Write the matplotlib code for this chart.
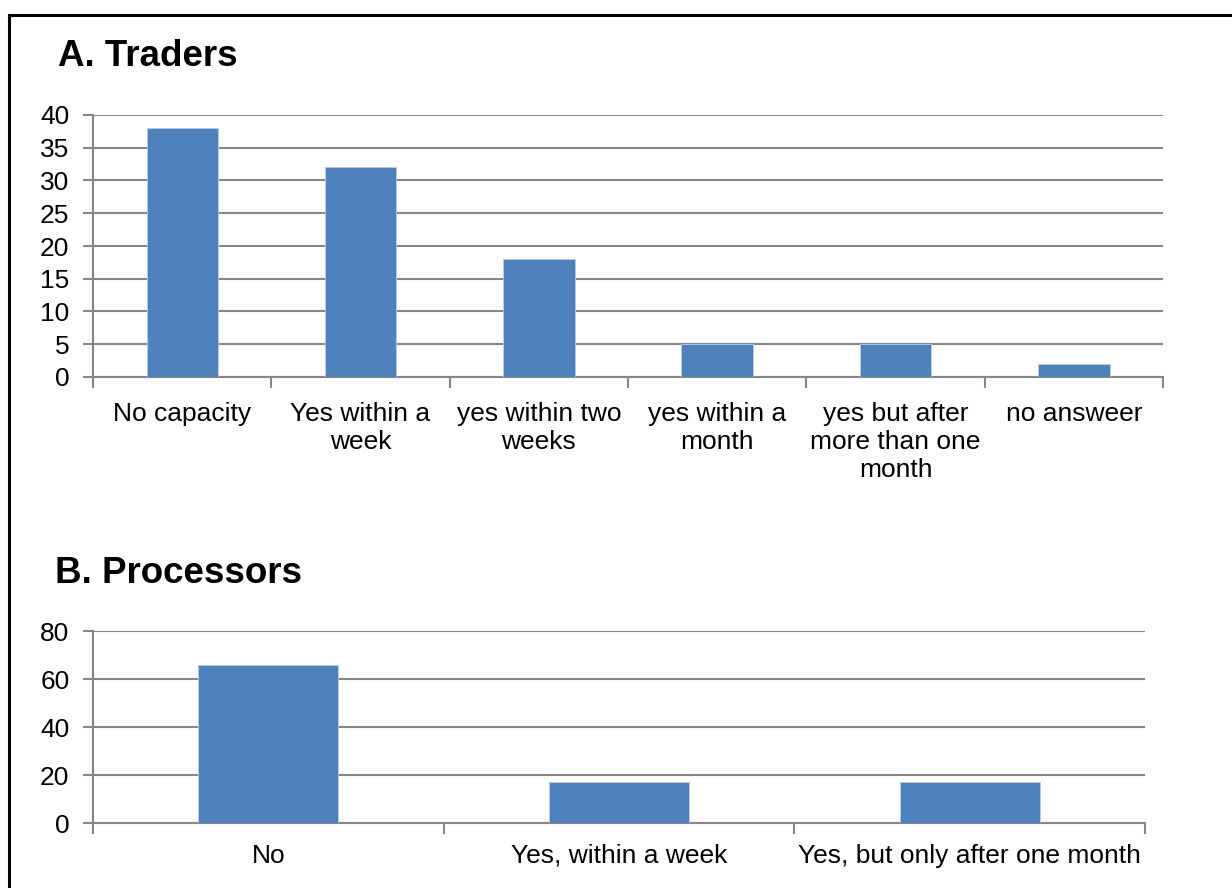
import matplotlib
matplotlib.use("Agg")
import matplotlib.pyplot as plt
from matplotlib.lines import Line2D
from matplotlib.ticker import FixedLocator, NullFormatter

plt.rcParams['font.family'] = ['Liberation Sans', 'DejaVu Sans']

traders_categories = ["No capacity", "Yes within a\nweek", "yes within two\nweeks",
                      "yes within a\nmonth", "yes but after\nmore than one\nmonth", "no answeer"]
traders_values = [38, 32, 18, 5, 5, 2]
traders_yticks = [0, 5, 10, 15, 20, 25, 30, 35, 40]

processors_categories = ["No", "Yes, within a week", "Yes, but only after one month"]
processors_values = [66, 17, 17]
processors_yticks = [0, 20, 40, 60, 80]

BAR = "#4F81BD"
GRID = "#878787"
W, H = 1232, 888

fig = plt.figure(figsize=(W / 100, H / 100), dpi=100)

def box(l, t, r, b):
    return [l / W, 1 - b / H, (r - l) / W, (b - t) / H]

def style(ax, cats, vals, yticks, xpad):
    n = len(cats)
    x = list(range(n))
    ax.bar(x, vals, width=0.4, color=BAR, edgecolor="#B9CDE5", linewidth=0.6, zorder=3)
    ax.set_xlim(-0.5, n - 0.5)
    ax.set_ylim(yticks[0], yticks[-1])
    ax.set_yticks(yticks)
    ax.set_yticklabels([str(v) for v in yticks], fontsize=19)
    ax.yaxis.grid(True, color=GRID, linewidth=1.5, zorder=0)
    ax.set_axisbelow(True)
    ax.set_xticks(x)
    ax.set_xticklabels(cats, fontsize=19, linespacing=1.22)
    ax.xaxis.set_minor_locator(FixedLocator([i - 0.5 for i in range(n + 1)]))
    ax.xaxis.set_minor_formatter(NullFormatter())
    ax.tick_params(axis="x", which="major", length=0, pad=xpad)
    ax.tick_params(axis="x", which="minor", length=8, width=1.5, color=GRID)
    ax.tick_params(axis="y", length=7, width=1.5, color=GRID, pad=10)
    for s in ["top", "right"]:
        ax.spines[s].set_visible(False)
    for s in ["left", "bottom"]:
        ax.spines[s].set_color(GRID)
        ax.spines[s].set_linewidth(1.5)

axA = fig.add_axes(box(93, 115, 1163, 377))
style(axA, traders_categories, traders_values, traders_yticks, 18)
axB = fig.add_axes(box(93, 631, 1145, 823))
style(axB, processors_categories, processors_values, processors_yticks, 15)

fig.text(58 / W, 1 - 57 / H, "A. Traders", fontsize=26.5, fontweight="bold", va="center", ha="left")
fig.text(55 / W, 1 - 573 / H, "B. Processors", fontsize=26.5, fontweight="bold", va="center", ha="left")

# outer frame (top and left edges visible)
fig.add_artist(Line2D([9 / W, 1], [1 - 15 / H, 1 - 15 / H], color="black", linewidth=2.2,
                      transform=fig.transFigure))
fig.add_artist(Line2D([9 / W, 9 / W], [0, 1 - 15 / H], color="black", linewidth=2.2,
                      transform=fig.transFigure))

fig.savefig("out.png", dpi=100, facecolor="white")
